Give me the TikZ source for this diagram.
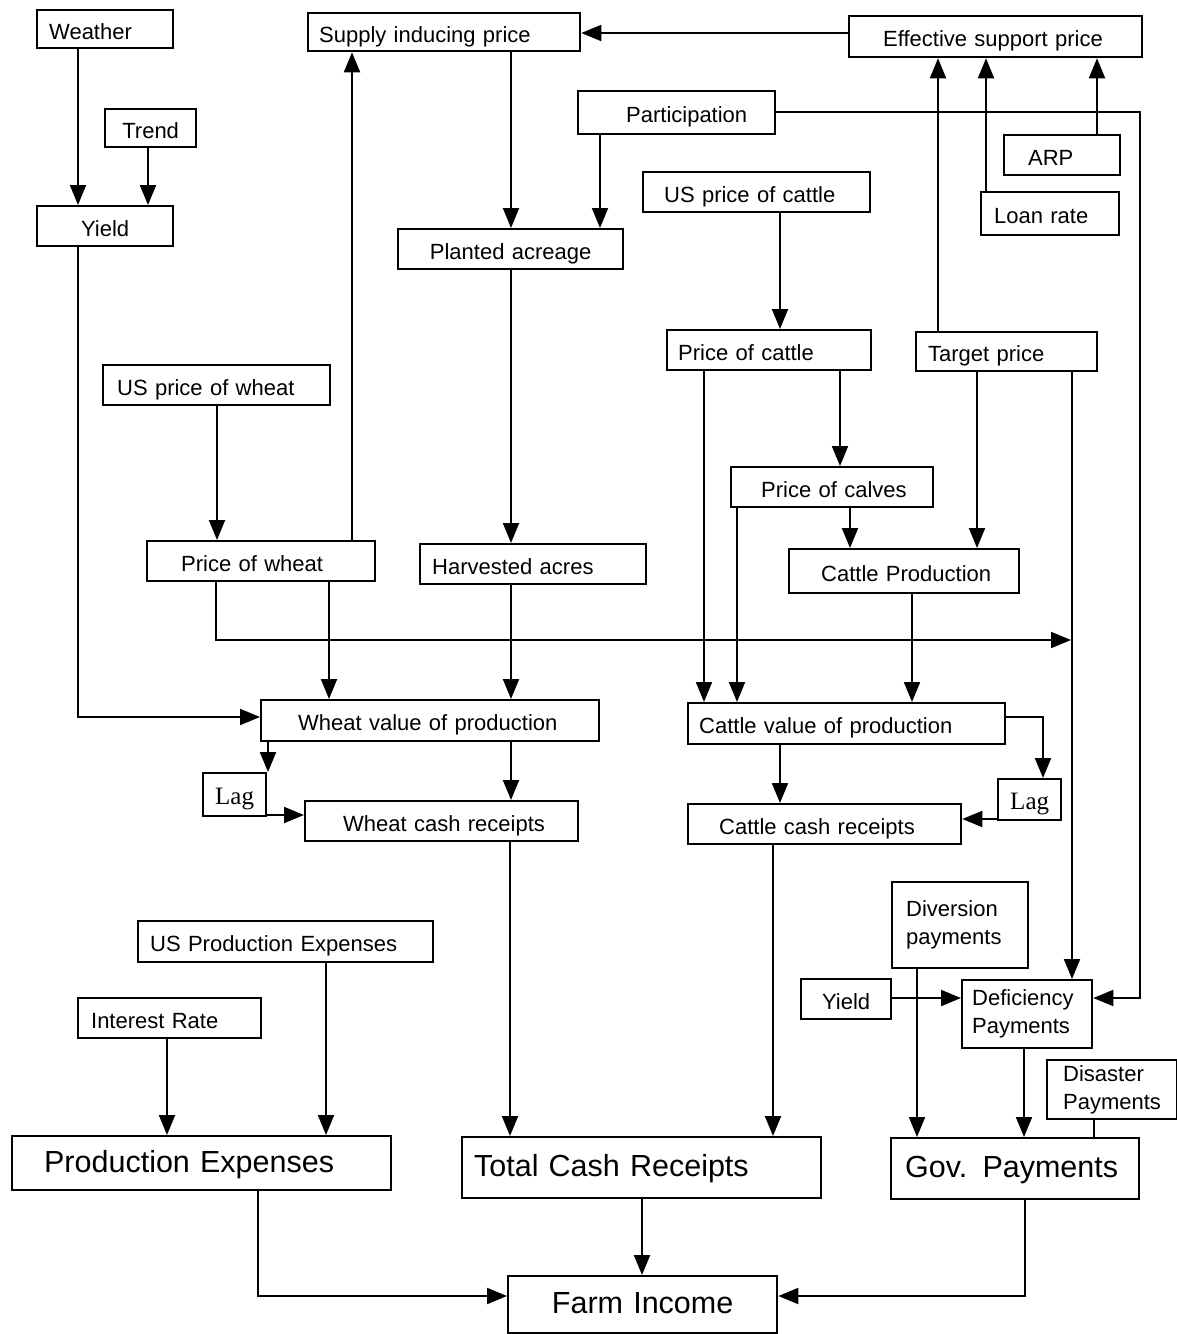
\documentclass[tikz,border=0pt]{standalone}
\usepackage{fontspec}
\setmainfont{Liberation Sans}
\newfontfamily\lagfont{Liberation Serif}
\usetikzlibrary{arrows.meta}
\protected\def\boxfont{\fontsize{22}{28}\selectfont\fontdimen2\font=0.5em\relax}
\protected\def\bigfont{\fontsize{30.5}{34}\selectfont\fontdimen2\font=0.45em\relax}
\protected\def\lagfnt{\lagfont\fontsize{25}{28}\selectfont}
\newcommand\sw{\hspace{0.5em}}
\tikzset{
  box/.style={draw, line width=2.3pt, inner ysep=0pt, align=left,
    text height=21pt, text depth=1pt, font=\boxfont},
  big/.style={font=\bigfont, text height=24pt, text depth=6pt},
  multi/.style={text height=, text depth=},
  lagtext/.style={font=\lagfnt},
  arr/.style={line width=2pt, -{Triangle[length=20pt,width=16pt]}},
  ln/.style={line width=2pt},
}
\newcommand\bx[8][]{%
  \pgfmathsetmacro\bxw{#5-#3-2*#7}%
  \pgfmathsetmacro\bxh{#6-#4}%
  \node[box,#1,text width=\bxw pt,inner xsep=#7pt,minimum height=\bxh pt,anchor=north west] (#2) at (#3,#4) {\mbox{#8}};}
\newcommand\two[2]{\begin{tabular}{@{}l@{}}#1\\#2\end{tabular}}
\begin{document}
\begin{tikzpicture}[x=1pt,y=-1pt]
\fill[white] (0,0) rectangle (1177,1334);
\useasboundingbox (0,0) rectangle (1177,1334);

\bx{weather}{36}{9}{172}{47}{12}{Weather}
\bx{supply}{307}{12}{579}{50}{11}{Supply inducing price}
\bx{esp}{848}{15}{1141}{56}{34}{Effective support price}
\bx[align=center]{trend}{104}{108}{195}{146}{6}{Trend}
\bx[align=center]{yield}{36}{205}{172}{245}{6}{Yield}
\bx{part}{577}{90}{774}{133}{48}{Participation}
\bx{arp}{1003}{134}{1119}{174}{24}{ARP}
\bx{uscattle}{642}{171}{869}{211}{21}{US price of cattle}
\bx{loan}{980}{191}{1118}{234}{13}{Loan rate}
\bx[align=center]{planted}{397}{228}{622}{268}{8}{Planted acreage}
\bx{pcattle}{666}{329}{870}{369}{11}{Price of cattle}
\bx{target}{915}{331}{1096}{370}{12}{Target price}
\bx{uswheat}{102}{364}{329}{404}{14}{US price of wheat}
\bx{calves}{730}{466}{932}{506}{30}{Price of calves}
\bx{pwheat}{146}{540}{374}{580}{34}{Price of wheat}
\bx{harvest}{419}{543}{645}{583}{12}{Harvested acres}
\bx{cprod}{788}{548}{1018}{592}{32}{Cattle Production}
\bx{wvalue}{260}{699}{598}{740}{37}{Wheat value of production}
\bx{cvalue}{687}{702}{1004}{743}{11}{Cattle value of production}
\bx[align=center,lagtext]{lagw}{202}{772}{265}{815}{4}{Lag}
\bx{wcash}{304}{800}{577}{840}{38}{Wheat cash receipts}
\bx[align=center,lagtext]{lagc}{997}{778}{1060}{819}{4}{Lag}
\bx{ccash}{687}{803}{960}{843}{31}{Cattle cash receipts}
\bx[multi]{divers}{891}{881}{1027}{967}{14}{\two{Diversion}{payments}}
\bx{usexp}{137}{920}{432}{961}{12}{US Production Expenses}
\bx[align=center]{yieldb}{800}{978}{890}{1018}{6}{Yield}
\bx[multi]{defic}{961}{979}{1091}{1047}{10}{\two{Deficiency}{Payments}}
\bx{interest}{77}{997}{260}{1037}{13}{Interest Rate}
\bx[multi]{disaster}{1046}{1059}{1176}{1118}{16}{\two{Disaster}{Payments}}
\bx[big]{prodexp}{11}{1135}{390}{1189}{32}{Production Expenses}
\bx[big]{total}{461}{1136}{820}{1197}{12}{Total Cash Receipts}
\bx[big]{gov}{890}{1137}{1138}{1198}{14}{Gov. Payments}
\bx[big,align=center]{farm}{507}{1275}{776}{1332}{8}{Farm Income}

\draw[arr] (weather.south -| 78,0) -- (yield.north -| 78,0);
\draw[arr] (trend.south -| 148,0) -- (yield.north -| 148,0);
\draw[arr] (supply.south -| 511,0) -- (planted.north -| 511,0);
\draw[arr] (esp.west |- 0,33) -- (supply.east |- 0,33);
\draw[arr] (part.south -| 600,0) -- (planted.north -| 600,0);
\draw[arr] (part.east |- 0,112) -- (1140,112) -- (1140,998) -- (defic.east |- 0,998);
\draw[arr] (arp.north -| 1097,0) -- (esp.south -| 1097,0);
\draw[arr] (loan.north -| 986,0) -- (esp.south -| 986,0);
\draw[arr] (target.north -| 938,0) -- (esp.south -| 938,0);
\draw[arr] (uscattle.south -| 780,0) -- (pcattle.north -| 780,0);
\draw[arr] (pcattle.south -| 704,0) -- (cvalue.north -| 704,0);
\draw[arr] (pcattle.south -| 840,0) -- (calves.north -| 840,0);
\draw[arr] (target.south -| 977,0) -- (cprod.north -| 977,0);
\draw[arr] (target.south -| 1072,0) -- (defic.north -| 1072,0);
\draw[arr] (calves.south -| 737,0) -- (cvalue.north -| 737,0);
\draw[arr] (calves.south -| 850,0) -- (cprod.north -| 850,0);
\draw[arr] (cprod.south -| 912,0) -- (cvalue.north -| 912,0);
\draw[arr] (uswheat.south -| 217,0) -- (pwheat.north -| 217,0);
\draw[arr] (pwheat.north -| 352,0) -- (supply.south -| 352,0);
\coordinate (tpline) at (1071,640);
\draw[arr] (pwheat.south -| 216,0) -- (216,640) -- (tpline);
\draw[arr] (pwheat.south -| 329,0) -- (wvalue.north -| 329,0);
\draw[arr] (planted.south -| 511,0) -- (harvest.north -| 511,0);
\draw[arr] (harvest.south -| 511,0) -- (wvalue.north -| 511,0);
\draw[arr] (yield.south -| 78,0) -- (78,717) -- (wvalue.west |- 0,717);
\draw[arr] (wvalue.south -| 268,0) -- (lagw.north -| 268,0);
\draw[arr] (lagw.east |- 0,815) -- (wcash.west |- 0,815);
\draw[arr] (wvalue.south -| 511,0) -- (wcash.north -| 511,0);
\draw[arr] (wcash.south -| 510,0) -- (total.north -| 510,0);
\draw[arr] (cvalue.south -| 780,0) -- (ccash.north -| 780,0);
\draw[arr] (cvalue.east |- 0,717) -- (1043,717) -- (lagc.north -| 1043,0);
\draw[arr] (lagc.west |- 0,819) -- (ccash.east |- 0,819);
\draw[arr] (ccash.south -| 773,0) -- (total.north -| 773,0);
\draw[arr] (usexp.south -| 326,0) -- (prodexp.north -| 326,0);
\draw[arr] (interest.south -| 167,0) -- (prodexp.north -| 167,0);
\draw[arr] (divers.south -| 917,0) -- (gov.north -| 917,0);
\draw[arr] (yieldb.east |- 0,998) -- (defic.west |- 0,998);
\draw[arr] (defic.south -| 1024,0) -- (gov.north -| 1024,0);
\draw[ln] (disaster.south -| 1094,0) -- (gov.north -| 1094,0);
\draw[arr] (prodexp.south -| 258,0) -- (258,1296) -- (farm.west |- 0,1296);
\draw[arr] (total.south -| 642,0) -- (farm.north -| 642,0);
\draw[arr] (gov.south -| 1025,0) -- (1025,1296) -- (farm.east |- 0,1296);
\end{tikzpicture}
\end{document}
